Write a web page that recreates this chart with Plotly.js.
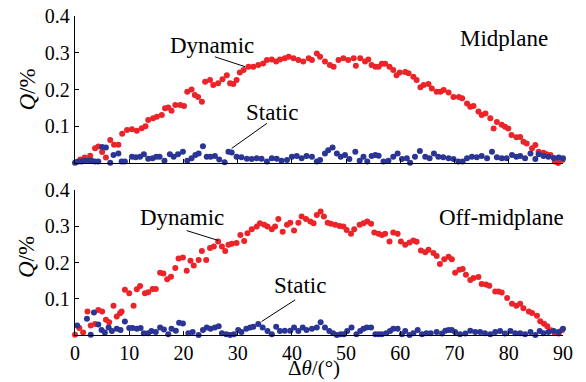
<!DOCTYPE html>
<html>
<head>
<meta charset="utf-8">
<script src="https://cdn.plot.ly/plotly-3.0.1.min.js"></script>
<style>
html,body{margin:0;padding:0;background:#fff;}
#chart{width:586px;height:382px;}
#chart svg text{font-family:'Liberation Serif' !important;}
</style>
</head>
<body>
<div id="chart"></div>
<script>
// Midplane (top panel): [Δθ (deg), Q (%)]
const midDynamic = [[0.2,.003],[1.0,.01],[1.8,.015],[2.8,.02],[3.7,.04],[4.3,.045],[5.0,.03],[5.7,.015],[6.5,.063],[7.2,.05],[8.0,.05],[8.7,.08],[9.6,.09],[10.5,.092],[11.4,.088],[12.3,.095],[13.0,.1],[13.5,.117],[14.4,.122],[15.1,.126],[16.0,.131],[16.6,.149],[17.2,.151],[17.8,.142],[18.5,.158],[19.4,.158],[20.1,.155],[20.7,.194],[21.5,.2],[22.1,.185],[22.7,.18],[23.4,.167],[24.0,.221],[24.9,.226],[25.5,.212],[26.4,.217],[27.2,.228],[28.0,.239],[28.6,.217],[29.2,.215],[29.8,.226],[30.4,.246],[31.1,.253],[32.0,.262],[32.9,.262],[33.8,.267],[34.7,.271],[35.4,.28],[36.3,.282],[37.1,.276],[37.8,.282],[38.7,.285],[39.4,.289],[40.3,.285],[41.2,.28],[42.1,.276],[43.1,.285],[43.7,.28],[44.6,.298],[45.2,.289],[46.1,.276],[47.0,.267],[47.7,.262],[48.6,.28],[49.5,.285],[50.4,.28],[51.4,.285],[51.8,.265],[52.6,.285],[53.5,.276],[54.1,.282],[54.7,.267],[55.4,.262],[56.0,.262],[56.6,.27],[57.2,.27],[58.0,.262],[58.7,.253],[59.3,.239],[59.9,.246],[60.9,.248],[61.5,.244],[62.4,.235],[63.0,.226],[63.7,.206],[64.3,.212],[65.2,.215],[65.8,.203],[66.7,.194],[67.4,.194],[68.0,.199],[68.9,.192],[69.8,.18],[70.8,.18],[71.4,.176],[72.3,.162],[72.9,.153],[73.5,.155],[74.4,.14],[75.0,.131],[75.7,.135],[76.6,.122],[77.2,.094],[77.8,.112],[78.7,.104],[79.3,.099],[79.9,.094],[80.5,.076],[81.4,.07],[82.1,.071],[82.7,.058],[83.3,.053],[84.3,.04],[84.9,.049],[85.5,.031],[86.4,.028],[87.0,.024],[87.7,.022],[88.5,.004],[89.1,0],[89.9,.008]];
const midStatic = [[0,.001],[0.6,.004],[1.2,.004],[1.8,.006],[2.5,.007],[3.1,.006],[3.7,.004],[4.3,.004],[5.0,.044],[5.7,.042],[6.5,.001],[7.1,.022],[8.0,.026],[8.6,.004],[9.2,.004],[10.5,.017],[11.2,.016],[12.0,.017],[12.7,.024],[13.5,.012],[14.3,.013],[15.0,.017],[15.6,.017],[16.5,.006],[17.5,.024],[18.2,.017],[19.0,.024],[19.9,.031],[20.7,.006],[21.5,.013],[22.2,.022],[22.8,.026],[23.6,.046],[24.3,.017],[25.0,.017],[25.8,.019],[26.6,.01],[27.6,.002],[28.3,.031],[28.9,.029],[29.8,.017],[30.7,.016],[31.7,.012],[32.6,.011],[33.5,.013],[34.4,.012],[35.4,.004],[36.3,.013],[37.2,.012],[38.1,.006],[39.1,.008],[40.0,.017],[40.9,.019],[41.8,.013],[42.7,.019],[43.7,.017],[44.6,.004],[45.2,.008],[46.1,.026],[46.7,.035],[47.5,.042],[48.3,.026],[49.0,.017],[49.8,.022],[50.6,.011],[51.7,.031],[52.5,.006],[53.2,.017],[53.9,.004],[54.7,.019],[55.4,.022],[56.0,.02],[56.9,.004],[57.8,.006],[58.7,.017],[59.5,.026],[60.3,.011],[61.2,.013],[61.8,.001],[62.7,.017],[63.6,.033],[64.6,.017],[65.4,.013],[66.2,.026],[67.0,.017],[67.9,.016],[68.9,.013],[69.8,.011],[70.7,.004],[71.5,.004],[72.3,.013],[73.2,.017],[74.1,.016],[75.0,.019],[76.0,.013],[76.9,.031],[77.8,.016],[78.7,.013],[79.6,.013],[80.6,.022],[81.4,.017],[82.1,.019],[83.0,.013],[84.0,.026],[84.9,.011],[85.5,.024],[86.4,.019],[87.3,.017],[88.3,.014],[89.2,.015],[90.0,.013]];
// Off-midplane (bottom panel)
const offDynamic = [[0,.001],[0.8,.019],[1.5,.007],[2.3,.065],[2.9,.026],[3.7,.03],[4.3,.069],[5.0,.065],[5.7,.042],[6.3,.035],[7.1,.081],[7.7,.051],[8.3,.06],[8.6,.065],[9.2,.125],[10.0,.115],[10.8,.081],[11.4,.126],[12.0,.135],[12.9,.115],[13.5,.118],[14.3,.127],[14.9,.127],[15.7,.172],[16.3,.17],[17.0,.154],[17.7,.161],[18.5,.185],[19.1,.211],[19.9,.214],[20.6,.177],[21.3,.205],[21.9,.192],[22.8,.207],[23.4,.232],[24.2,.207],[24.9,.240],[25.6,.244],[26.4,.258],[27.1,.244],[27.7,.232],[28.3,.249],[28.9,.252],[29.8,.254],[30.5,.276],[31.2,.259],[31.8,.281],[32.6,.292],[33.5,.299],[34.1,.308],[34.9,.304],[35.5,.299],[36.3,.292],[36.9,.299],[37.5,.320],[38.3,.285],[39.1,.304],[39.7,.310],[40.4,.288],[41.2,.310],[41.8,.327],[42.6,.320],[43.4,.313],[44.0,.308],[44.6,.331],[45.3,.341],[45.9,.327],[46.6,.310],[47.2,.307],[48.0,.304],[48.8,.301],[49.5,.299],[50.1,.290],[50.9,.279],[51.5,.292],[52.5,.304],[53.2,.308],[53.9,.313],[54.6,.307],[55.2,.283],[56.0,.279],[56.6,.276],[57.2,.279],[58.0,.258],[58.7,.283],[59.5,.279],[60.1,.258],[60.9,.249],[61.7,.255],[62.4,.261],[63.0,.257],[63.8,.233],[64.6,.228],[65.2,.235],[66.1,.226],[66.7,.218],[67.3,.196],[68.1,.209],[68.9,.216],[69.5,.209],[70.1,.172],[70.9,.180],[71.5,.182],[72.1,.166],[72.9,.152],[73.5,.157],[74.4,.160],[75.0,.141],[75.8,.139],[76.4,.136],[77.5,.120],[78.1,.120],[78.7,.117],[79.7,.102],[80.6,.086],[81.4,.081],[82.1,.086],[82.7,.074],[83.7,.065],[84.3,.061],[85.2,.053],[85.8,.038],[86.5,.031],[87.1,.024],[87.8,.013],[88.4,.007],[89.2,.004],[89.8,.013]];
const offStatic = [[0.4,.026],[2.2,.045],[2.9,.001],[3.5,.062],[4.3,.029],[4.9,.014],[5.5,.007],[6.2,.021],[6.8,.011],[7.7,.017],[8.4,.014],[9.2,.037],[10.0,.019],[10.6,.019],[11.4,.017],[12.1,.019],[12.7,.005],[13.5,.005],[14.1,.011],[14.9,.008],[15.7,.021],[16.4,.015],[17.2,.002],[17.8,.017],[18.6,.012],[19.2,.034],[19.9,.032],[20.9,.005],[21.7,.008],[22.8,0],[23.6,.014],[24.3,.021],[25.0,.017],[25.8,.021],[26.5,.024],[27.1,.005],[27.9,.002],[28.6,0],[29.3,.002],[30.1,.014],[30.7,.008],[31.6,.017],[32.3,.021],[32.9,.023],[33.8,.030],[34.6,.021],[35.5,.011],[36.3,.002],[37.1,.023],[37.8,.011],[38.7,.012],[39.7,.012],[40.4,.021],[41.2,.011],[42.0,.021],[42.7,.014],[43.7,.017],[44.6,.021],[45.3,.035],[46.1,.021],[46.9,.011],[47.6,.005],[48.3,0],[49.0,.002],[49.6,.002],[50.2,.011],[51.0,.021],[51.9,.002],[52.6,.011],[53.2,.017],[53.8,.021],[54.6,.021],[55.4,.002],[56.0,.002],[56.6,.002],[57.4,.005],[58.1,.011],[58.7,.017],[59.5,.017],[60.3,.002],[60.9,.011],[61.7,0],[62.4,.005],[63.2,.014],[64.0,.002],[64.8,.005],[65.6,.005],[66.7,.008],[67.7,.004],[68.3,.012],[68.9,.014],[69.5,.014],[70.1,.008],[71.0,.002],[72.0,.004],[72.9,.012],[73.8,.008],[74.7,.008],[75.6,.005],[76.6,.002],[77.5,.008],[78.4,.011],[79.3,.004],[80.3,.011],[81.2,.005],[82.1,.005],[83.0,.002],[84.0,.008],[84.9,0],[85.7,.011],[86.4,.005],[87.3,.008],[88.3,.011],[89.2,.008],[90.0,.017]];

const xTicks = [0,10,20,30,40,50,60,70,80,90];
const yTicks = [0.1,0.2,0.3,0.4];
const yTickText = ['0.1','0.2','0.3','0.4'];

const RED = '#ec2328', BLUE = '#2a3595';
function tr(pairs, color, xa, ya) {
  return {x: pairs.map(p => p[0]), y: pairs.map(p => p[1]), type: 'scatter', mode: 'markers',
    xaxis: xa, yaxis: ya, cliponaxis: false, hoverinfo: 'skip',
    marker: {color: color, size: 6, line: {width: 0}}};
}
const traces = [
  tr(midDynamic, RED, 'x2', 'y2'), tr(midStatic, BLUE, 'x2', 'y2'),
  tr(offDynamic, RED, 'x', 'y'), tr(offStatic, BLUE, 'x', 'y')
];

const SERIF = 'Liberation Serif';
const TICKFONT = {family: SERIF, size: 20, color: '#000'};
const xBase = {range: [0, 90], tickvals: xTicks, ticks: 'inside', ticklen: 4, tickwidth: 1.2, tickcolor: '#000',
  showline: true, linecolor: '#000', linewidth: 1.3, showgrid: false, zeroline: false, fixedrange: true};
const yBase = {range: [0, 0.4], tickvals: yTicks, ticktext: yTickText, ticks: 'inside', ticklen: 4, tickwidth: 1.2,
  tickcolor: '#000', showline: true, linecolor: '#000', linewidth: 1.3, showgrid: false, zeroline: false, fixedrange: true};

function ann(text, x, y, xr, yr, extra) {
  return Object.assign({text: text, x: x, y: y, xref: xr, yref: yr, showarrow: false,
    xanchor: 'center', yanchor: 'middle', font: {family: SERIF, size: 23, color: '#000'}}, extra || {});
}
function lead(x0, y0, x1, y1, xr, yr) {
  return {type: 'line', x0: x0, y0: y0, x1: x1, y1: y1, xref: xr, yref: yr, line: {color: '#000', width: 1}};
}

const chartLayout = {
  width: 586, height: 382,
  margin: {l: 75, r: 23, t: 16, b: 47, pad: 0},
  paper_bgcolor: '#fff', plot_bgcolor: '#fff',
  showlegend: false,
  font: {family: SERIF, size: 20, color: '#000'},
  xaxis: Object.assign({}, xBase, {anchor: 'y', domain: [0, 1], tickfont: TICKFONT}),
  xaxis2: Object.assign({}, xBase, {anchor: 'y2', domain: [0, 1], showticklabels: false}),
  yaxis: Object.assign({}, yBase, {anchor: 'x', domain: [0, 0.4545], tickfont: TICKFONT}),
  yaxis2: Object.assign({}, yBase, {anchor: 'x2', domain: [0.539, 1], tickfont: TICKFONT}),
  annotations: [
    ann('Dynamic', 25.2, 0.321, 'x2', 'y2'),
    ann('Static', 36.3, 0.137, 'x2', 'y2'),
    ann('Midplane', 79.1, 0.338, 'x2', 'y2'),
    ann('Dynamic', 19.8, 0.324, 'x', 'y'),
    ann('Static', 41.5, 0.137, 'x', 'y'),
    ann('Off-midplane', 78.7, 0.323, 'x', 'y'),
    ann('<i>Q</i>/%', -0.098, 0.77, 'paper', 'paper', {textangle: -90}),
    ann('<i>Q</i>/%', -0.098, 0.245, 'paper', 'paper', {textangle: -90}),
    ann('Δ<i>θ</i>/(°)', 0.49, -0.146, 'paper', 'paper', {yanchor: 'bottom', font: {family: SERIF, size: 21, color: '#000'}})
  ],
  shapes: [
    lead(25.8, 0.289, 31.4, 0.262, 'x2', 'y2'),
    lead(35.4, 0.108, 28.9, 0.040, 'x2', 'y2'),
    lead(20.6, 0.288, 26.4, 0.261, 'x', 'y'),
    lead(40.6, 0.097, 34.4, 0.037, 'x', 'y')
  ]
};

Plotly.newPlot('chart', traces, chartLayout, {displayModeBar: false, staticPlot: true});
</script>
</body>
</html>
